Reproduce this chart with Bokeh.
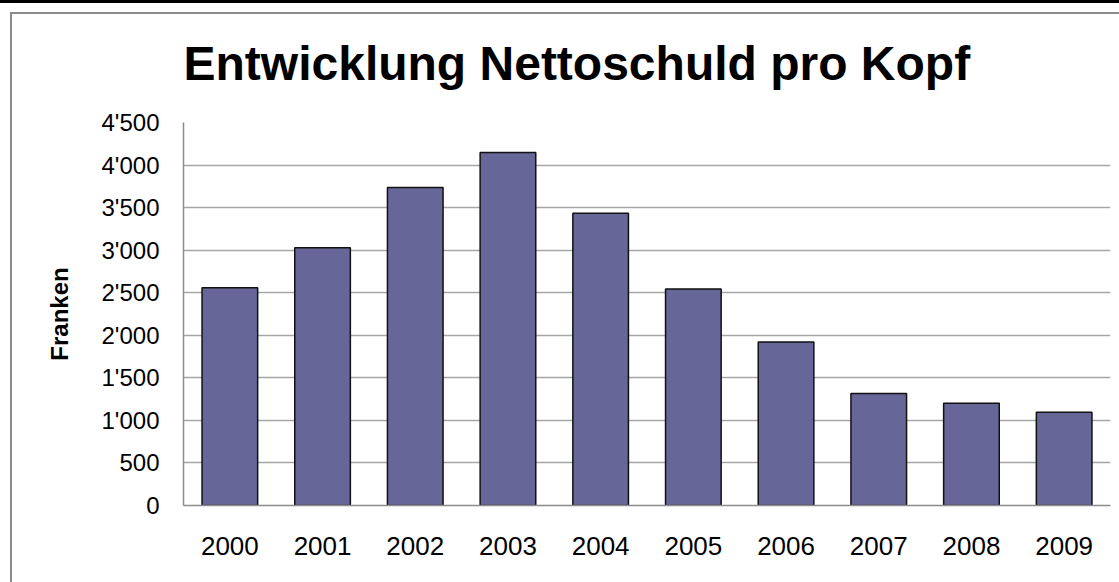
from bokeh.plotting import figure
from bokeh.models import FactorRange, Range1d, FixedTicker, ColumnDataSource, InlineStyleSheet
from bokeh.embed import file_html
from bokeh.resources import INLINE

# ---- data ----
years = ["2000", "2001", "2002", "2003", "2004", "2005", "2006", "2007", "2008", "2009"]
values = [2558, 3028, 3737, 4148, 3435, 2543, 1922, 1316, 1200, 1097]
tick_values = [0, 500, 1000, 1500, 2000, 2500, 3000, 3500, 4000, 4500]
tick_labels = ["0", "500", "1'000", "1'500", "2'000", "2'500", "3'000", "3'500", "4'000", "4'500"]
title_text = "Entwicklung Nettoschuld pro Kopf"
y_label = "Franken"

FONT = "Liberation Sans"

p = figure(
    width=1119, height=582,
    x_range=FactorRange(factors=years, range_padding=0),
    y_range=Range1d(0, 4500),
    output_backend="svg", toolbar_location=None,
    min_border_left=183, min_border_right=9, min_border_top=122, min_border_bottom=77,
)
p.background_fill_color = "white"
p.border_fill_color = "white"
p.outline_line_color = None

# title
p.title.text = title_text
p.title.text_font = FONT
p.title.text_font_style = "bold"
p.title.text_font_size = "48px"
p.title.text_color = "black"
p.title.align = "left"
p.title.offset = 0
p.title.standoff = 65

src = ColumnDataSource(dict(x=years, top=values))
p.vbar(x="x", top="top", width=0.6, source=src, fill_color="#666699",
       line_color="#111111", line_width=1.5)

# grid
p.xgrid.grid_line_color = None
p.ygrid.grid_line_color = "#a6a6a6"
p.ygrid.grid_line_width = 1.5
p.ygrid.ticker = FixedTicker(ticks=tick_values)

# axes
for ax in (p.xaxis[0], p.yaxis[0]):
    ax.axis_line_color = "#8c8c8c"
    ax.axis_line_width = 1.5
    ax.major_tick_line_color = None
    ax.minor_tick_line_color = None
    ax.major_tick_out = 0
    ax.major_tick_in = 0
    ax.major_label_text_font = FONT
    ax.major_label_text_color = "black"

p.xaxis.major_label_text_font_size = "26px"
p.xaxis.major_label_standoff = 31

p.yaxis.ticker = FixedTicker(ticks=tick_values)
p.yaxis.major_label_overrides = {v: l for v, l in zip(tick_values, tick_labels)}
p.yaxis.major_label_text_font_size = "24px"
p.yaxis.major_label_standoff = 24
p.yaxis.axis_label = y_label
p.yaxis.axis_label_text_font = FONT
p.yaxis.axis_label_text_font_style = "bold"
p.yaxis.axis_label_text_font_size = "24px"
p.yaxis.axis_label_text_color = "black"
p.yaxis.axis_label_standoff = 26

# outer chart frame (gray) and black top rule, drawn as decoration over the canvas
p.stylesheets = [InlineStyleSheet(css="""
:host::before { content: ""; position: absolute; left: 0; top: 0; width: 100%; height: 3px;
  background: #000; z-index: 10; pointer-events: none; }
:host::after { content: ""; position: absolute; left: 10px; top: 12px;
  width: calc(100% - 10px); height: calc(100% - 12px); box-sizing: border-box;
  border-left: 2px solid #8a8a8a; border-top: 2px solid #8a8a8a; z-index: 10; pointer-events: none; }
""")]

open("out.html", "w").write(file_html(p, INLINE))
